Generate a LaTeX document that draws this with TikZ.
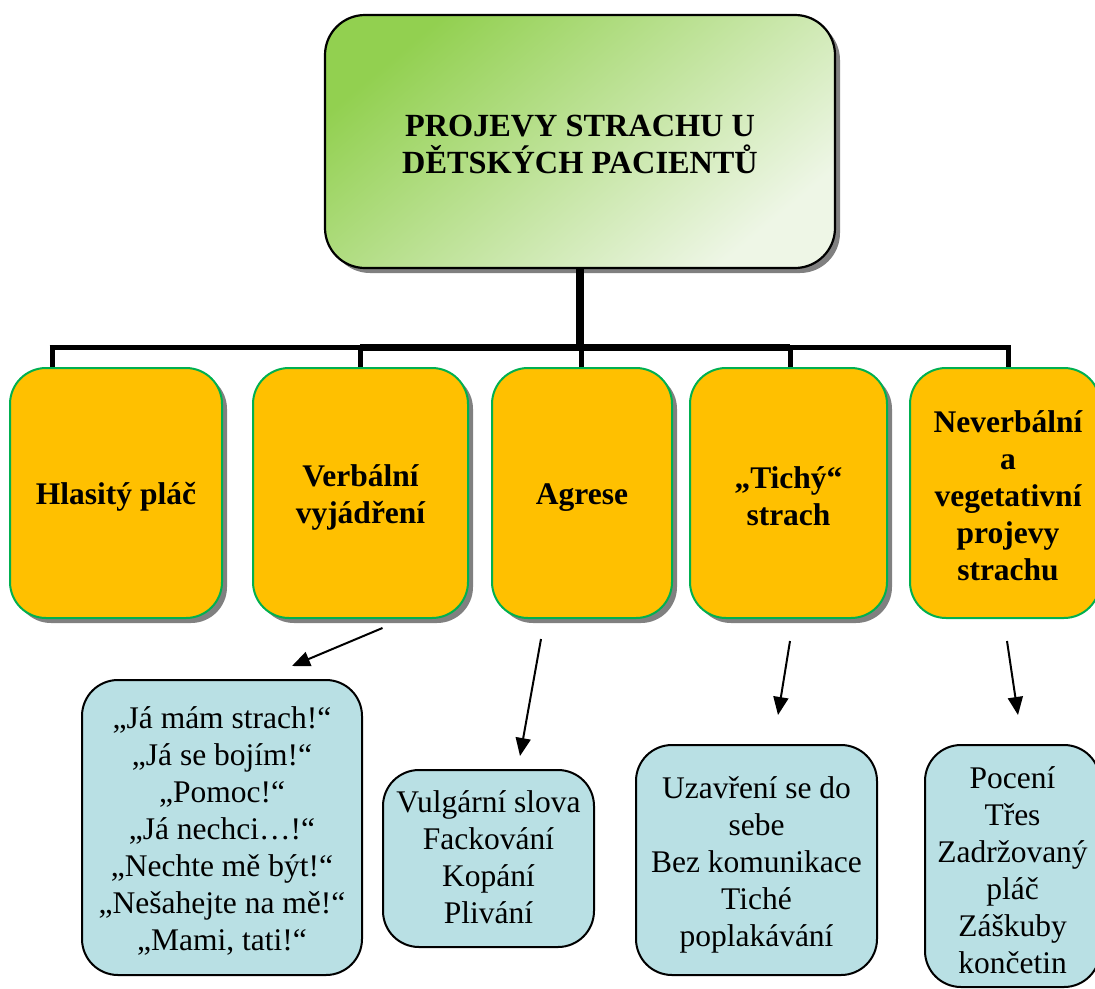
\documentclass[tikz,border=0pt]{standalone}
\usepackage{fontspec}
\setmainfont{Liberation Serif}
\usetikzlibrary{arrows.meta,calc,shadows}

\definecolor{headtop}{HTML}{92D050}
\definecolor{headbot}{HTML}{EEF6E6}
\definecolor{boxorange}{HTML}{FFC000}
\definecolor{boxgreen}{HTML}{00B050}
\definecolor{boxaqua}{HTML}{B9E0E4}
\definecolor{shadowgray}{HTML}{808080}

\begin{document}
\begin{tikzpicture}[x=1pt,y=-1pt,
  txt/.style={font=\fontsize{31.5}{37}\selectfont, align=center, inner sep=0pt},
  boldtxt/.style={txt, font=\fontsize{31.5}{37}\selectfont\bfseries},
  titletxt/.style={txt, font=\fontsize{32.3}{36.5}\selectfont\bfseries},
  solidshadow/.style={drop shadow={shadow xshift=5pt, shadow yshift=-5pt, fill=shadowgray, opacity=1}},
  headbox/.style={rectangle, rounded corners=40pt, draw=black, line width=2.2pt,
    minimum width=510pt, minimum height=253pt, solidshadow,
    top color=headtop, bottom color=headbot, shading angle=40},
  catbox/.style={rectangle, rounded corners=36pt, draw=boxgreen, line width=2pt,
    fill=boxorange, minimum height=250pt},
  itembox/.style={rectangle, rounded corners=36pt, draw=black, line width=2pt,
    fill=boxaqua},
  trunk/.style={line width=8pt},
  bus/.style={line width=5pt},
  arr/.style={line width=2pt, -{Triangle[length=18pt,width=15pt]}}
]
\useasboundingbox (0,0) rectangle (1095,988);

% heading
\node[headbox] (top) at (580,141.5) {};
\node[titletxt] (topt) at ($(top.center)+(0,3)$) {PROJEVY STRACHU U\\DĚTSKÝCH PACIENTŮ};

% categories
\node[catbox, solidshadow, minimum width=212pt] (b1) at (116,493) {};
\node[catbox, solidshadow, minimum width=215pt] (b2) at (360.5,493) {};
\node[catbox, solidshadow, minimum width=180pt] (b3) at (582,493) {};
\node[catbox, solidshadow, minimum width=197pt] (b4) at (788.5,493) {};
\node[catbox, minimum width=190pt] (b5) at (1005,493) {};

\node[boldtxt] (b1t) at ($(b1.center)+(0,4)$) {Hlasitý pláč};
\node[boldtxt] (b2t) at ($(b2.center)+(0,4)$) {Verbální\\vyjádření};
\node[boldtxt] (b3t) at ($(b3.center)+(0,5)$) {Agrese};
\node[boldtxt] (b4t) at ($(b4.center)+(0,3)$) {„Tichý“\\strach};
\node[boldtxt] (b5t) at ($(b5.center)+(3,3)$) {Neverbální\\a\\vegetativní\\projevy\\strachu};

% examples
\node[itembox, minimum width=280pt, minimum height=295pt] (q1) at (222,827.5) {};
\node[itembox, minimum width=211pt, minimum height=177pt] (q2) at (488.5,858.5) {};
\node[itembox, minimum width=241pt, minimum height=230pt] (q3) at (756.5,860) {};
\node[itembox, minimum width=175pt, minimum height=242pt] (q4) at (1012.5,866) {};

\node[txt] (q1t) at ($(q1.center)+(0,3)$)
  {„Já mám strach!“\\„Já se bojím!“\\„Pomoc!“\\„Já nechci…!“\\„Nechte mě být!“\\„Nešahejte na mě!“\\„Mami, tati!“};
\node[txt] (q2t) at ($(q2.center)+(0,-1)$) {Vulgární slova\\Fackování\\Kopání\\Plivání};
\node[txt] (q3t) at ($(q3.center)+(0,5)$) {Uzavření se do\\sebe\\Bez komunikace\\Tiché\\poplakávání};
\node[txt] (q4t) at ($(q4.center)+(0,4)$) {Pocení\\Třes\\Zadržovaný\\pláč\\Záškuby\\končetin};

% tree connectors
\coordinate (j1) at (52,347);
\coordinate (j2) at (360,347);
\coordinate (j3) at (581,347);
\coordinate (j4) at (790,347);
\coordinate (j5) at (1008,347);

\draw[trunk] (top.south) -- (top.south |- j3);
\draw[bus] ([xshift=-2.5pt]j1) -- ([xshift=2.5pt]j5);
\draw[bus, line width=7pt] (j2) -- (j4);
\draw[bus] ([yshift=-2.5pt]j1) -- (j1 |- b1.north);
\draw[bus] (j2) -- (j2 |- b2.north);
\draw[bus] (j3) -- (j3 |- b3.north);
\draw[bus] (j4) -- (j4 |- b4.north);
\draw[bus] ([yshift=-2.5pt]j5) -- (j5 |- b5.north);

% arrows to examples
\draw[arr] ($(b2.south)+(22,9)$) -- ($(q1.north)+(70,-13)$);
\draw[arr] ($(b3.south)+(-41,20)$) -- ($(q2.north)+(31.5,-13)$);
\draw[arr] ($(b4.south)+(1.5,22)$) -- ($(q3.north)+(21.5,-29)$);
\draw[arr] ($(b5.south)+(2,22)$) -- ($(q4.north)+(5.5,-29)$);
\end{tikzpicture}
\end{document}
